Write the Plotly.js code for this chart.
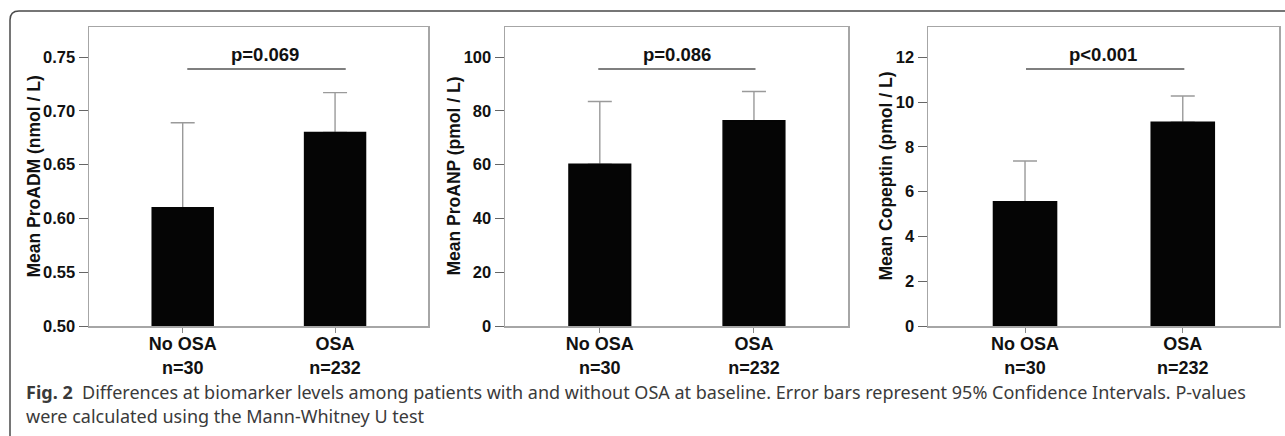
<!DOCTYPE html>
<html>
<head>
<meta charset="utf-8">
<script src="https://cdn.plot.ly/plotly-3.0.1.min.js"></script>
<style>
  html, body { margin: 0; padding: 0; background: #ffffff; }
  #chart { width: 1285px; height: 436px; }
</style>
</head>
<body>
<div id="chart"></div>
<script>
// ---- data ----
const categories = ["No OSA", "OSA"];
const groupSizes = ["n=30", "n=232"];

const proadmMean  = [0.61, 0.68];
const proadmUpper = [0.689, 0.717];

const proanpMean  = [60.2, 76.3];
const proanpUpper = [83.5, 87.2];

const copeptinMean  = [5.55, 9.1];
const copeptinUpper = [7.37, 10.27];

const pValueLabels = ["p=0.069", "p=0.086", "p<0.001"];
const yTitles = ["Mean ProADM (nmol / L)", "Mean ProANP (pmol / L)", "Mean Copeptin (pmol / L)"];
const captionBold = "Fig. 2";
const captionLine1 = "Differences at biomarker levels among patients with and without OSA at baseline. Error bars represent 95% Confidence Intervals. P-values";
const captionLine2 = "were calculated using the Mann-Whitney U test";

// ---- layout helpers ----
const W = 1285, H = 436;
const px = v => v / W;
const py = v => 1 - v / H;
const FONT = "Liberation Sans, Arial, sans-serif";

const panels = [
  { mean: proadmMean, upper: proadmUpper, x0: 89, x1: 428, range: [0.5, 0.778], dtick: 0.05, fmt: ".2f",
    titleX: 33, line: [0.03, 1.07], textX: 0.54 },
  { mean: proanpMean, upper: proanpUpper, x0: 505, x1: 848, range: [0, 111.2], dtick: 20, fmt: "d",
    titleX: 453, line: [-0.01, 1.01], textX: 0.5 },
  { mean: copeptinMean, upper: copeptinUpper, x0: 928, x1: 1279, range: [0, 13.35], dtick: 2, fmt: "d",
    titleX: 885, line: [0.006, 1.01], textX: 0.495 }
];

const plotTop = 27, plotBottom = 326;
const tickText = categories.map((c, i) => c + "<br>" + groupSizes[i]);

const traces = [];
const layout = {
  width: W, height: H,
  margin: { l: 0, r: 0, t: 0, b: 0 },
  paper_bgcolor: "#ffffff",
  plot_bgcolor: "#ffffff",
  showlegend: false,
  barmode: "overlay",
  font: { family: FONT, color: "#111111" },
  shapes: [],
  annotations: []
};

panels.forEach((p, i) => {
  const n = i === 0 ? "" : String(i + 1);
  // invisible carrier of the confidence-interval whiskers (drawn underneath the bars)
  traces.push({
    type: "bar",
    x: categories,
    y: p.mean,
    xaxis: "x" + n,
    yaxis: "y" + n,
    width: 0.4,
    marker: { color: "rgba(0,0,0,0)", line: { width: 0 } },
    error_y: {
      type: "data",
      symmetric: false,
      array: p.upper.map((u, k) => u - p.mean[k]),
      arrayminus: p.mean.map(() => 0),
      color: "#9a9a9a",
      thickness: 1.4,
      width: 12
    },
    hoverinfo: "skip"
  });
  // the mean bars
  traces.push({
    type: "bar",
    x: categories,
    y: p.mean,
    xaxis: "x" + n,
    yaxis: "y" + n,
    width: 0.4,
    marker: { color: "#050505", line: { color: "#050505", width: 1.5 } },
    hoverinfo: "skip"
  });

  layout["xaxis" + n] = {
    domain: [px(p.x0), px(p.x1)],
    anchor: "y" + n,
    type: "category",
    range: [-0.615, 1.61],
    tickvals: categories,
    ticktext: tickText,
    ticks: "outside",
    ticklen: 5,
    tickcolor: "#888888",
    tickwidth: 1,
    ticklabelstandoff: -4,
    showline: true,
    mirror: true,
    linecolor: "#a6a6a6",
    linewidth: 1.5,
    showgrid: false,
    zeroline: false,
    fixedrange: true,
    tickfont: { family: FONT, size: 18, weight: "bold", color: "#111111" }
  };
  layout["yaxis" + n] = {
    domain: [py(plotBottom), py(plotTop)],
    anchor: "x" + n,
    range: p.range,
    dtick: p.dtick,
    tick0: p.range[0],
    tickformat: p.fmt,
    ticks: "outside",
    ticklen: 9,
    tickcolor: "#666666",
    tickwidth: 1,
    showline: true,
    mirror: true,
    linecolor: "#a6a6a6",
    linewidth: 1.5,
    showgrid: false,
    zeroline: false,
    fixedrange: true,
    tickfont: { family: FONT, size: 16.5, weight: "bold", color: "#111111" }
  };

  // y-axis title
  layout.annotations.push({
    text: yTitles[i],
    xref: "paper", yref: "paper",
    x: px(p.titleX), y: py((plotTop + plotBottom) / 2),
    xanchor: "center", yanchor: "middle",
    textangle: -90,
    showarrow: false,
    font: { family: FONT, size: 17.5, weight: "bold", color: "#111111" }
  });

  // p-value bracket
  layout.shapes.push({
    type: "line",
    xref: "x" + n, yref: "paper",
    x0: p.line[0], x1: p.line[1],
    y0: py(69), y1: py(69),
    line: { color: "#000000", width: 1.2 }
  });
  layout.annotations.push({
    text: pValueLabels[i],
    xref: "x" + n, yref: "paper",
    x: p.textX, y: py(55),
    xanchor: "center", yanchor: "middle",
    showarrow: false,
    font: { family: FONT, size: 18.5, weight: "bold", color: "#111111" }
  });
});

// outer rounded frame (top and left edges)
layout.shapes.push({
  type: "path",
  xref: "paper", yref: "paper",
  path: `M ${px(10)} ${py(436)} L ${px(10)} ${py(20)} Q ${px(10)} ${py(11)} ${px(19)} ${py(11)} L ${px(1285)} ${py(11)}`,
  line: { color: "#4a4a4a", width: 1.5 }
});

// caption
const capFont = { family: "Noto Sans, Open Sans, sans-serif", size: 18, color: "#3a3a3a" };
layout.annotations.push({
  text: "<b>" + captionBold + "</b>  " + captionLine1,
  xref: "paper", yref: "paper",
  x: px(24), y: py(392),
  xanchor: "left", yanchor: "middle",
  showarrow: false, align: "left",
  font: capFont
});
layout.annotations.push({
  text: captionLine2,
  xref: "paper", yref: "paper",
  x: px(24), y: py(416),
  xanchor: "left", yanchor: "middle",
  showarrow: false, align: "left",
  font: capFont
});

Plotly.newPlot("chart", traces, layout, { staticPlot: true, displayModeBar: false });
</script>
</body>
</html>
